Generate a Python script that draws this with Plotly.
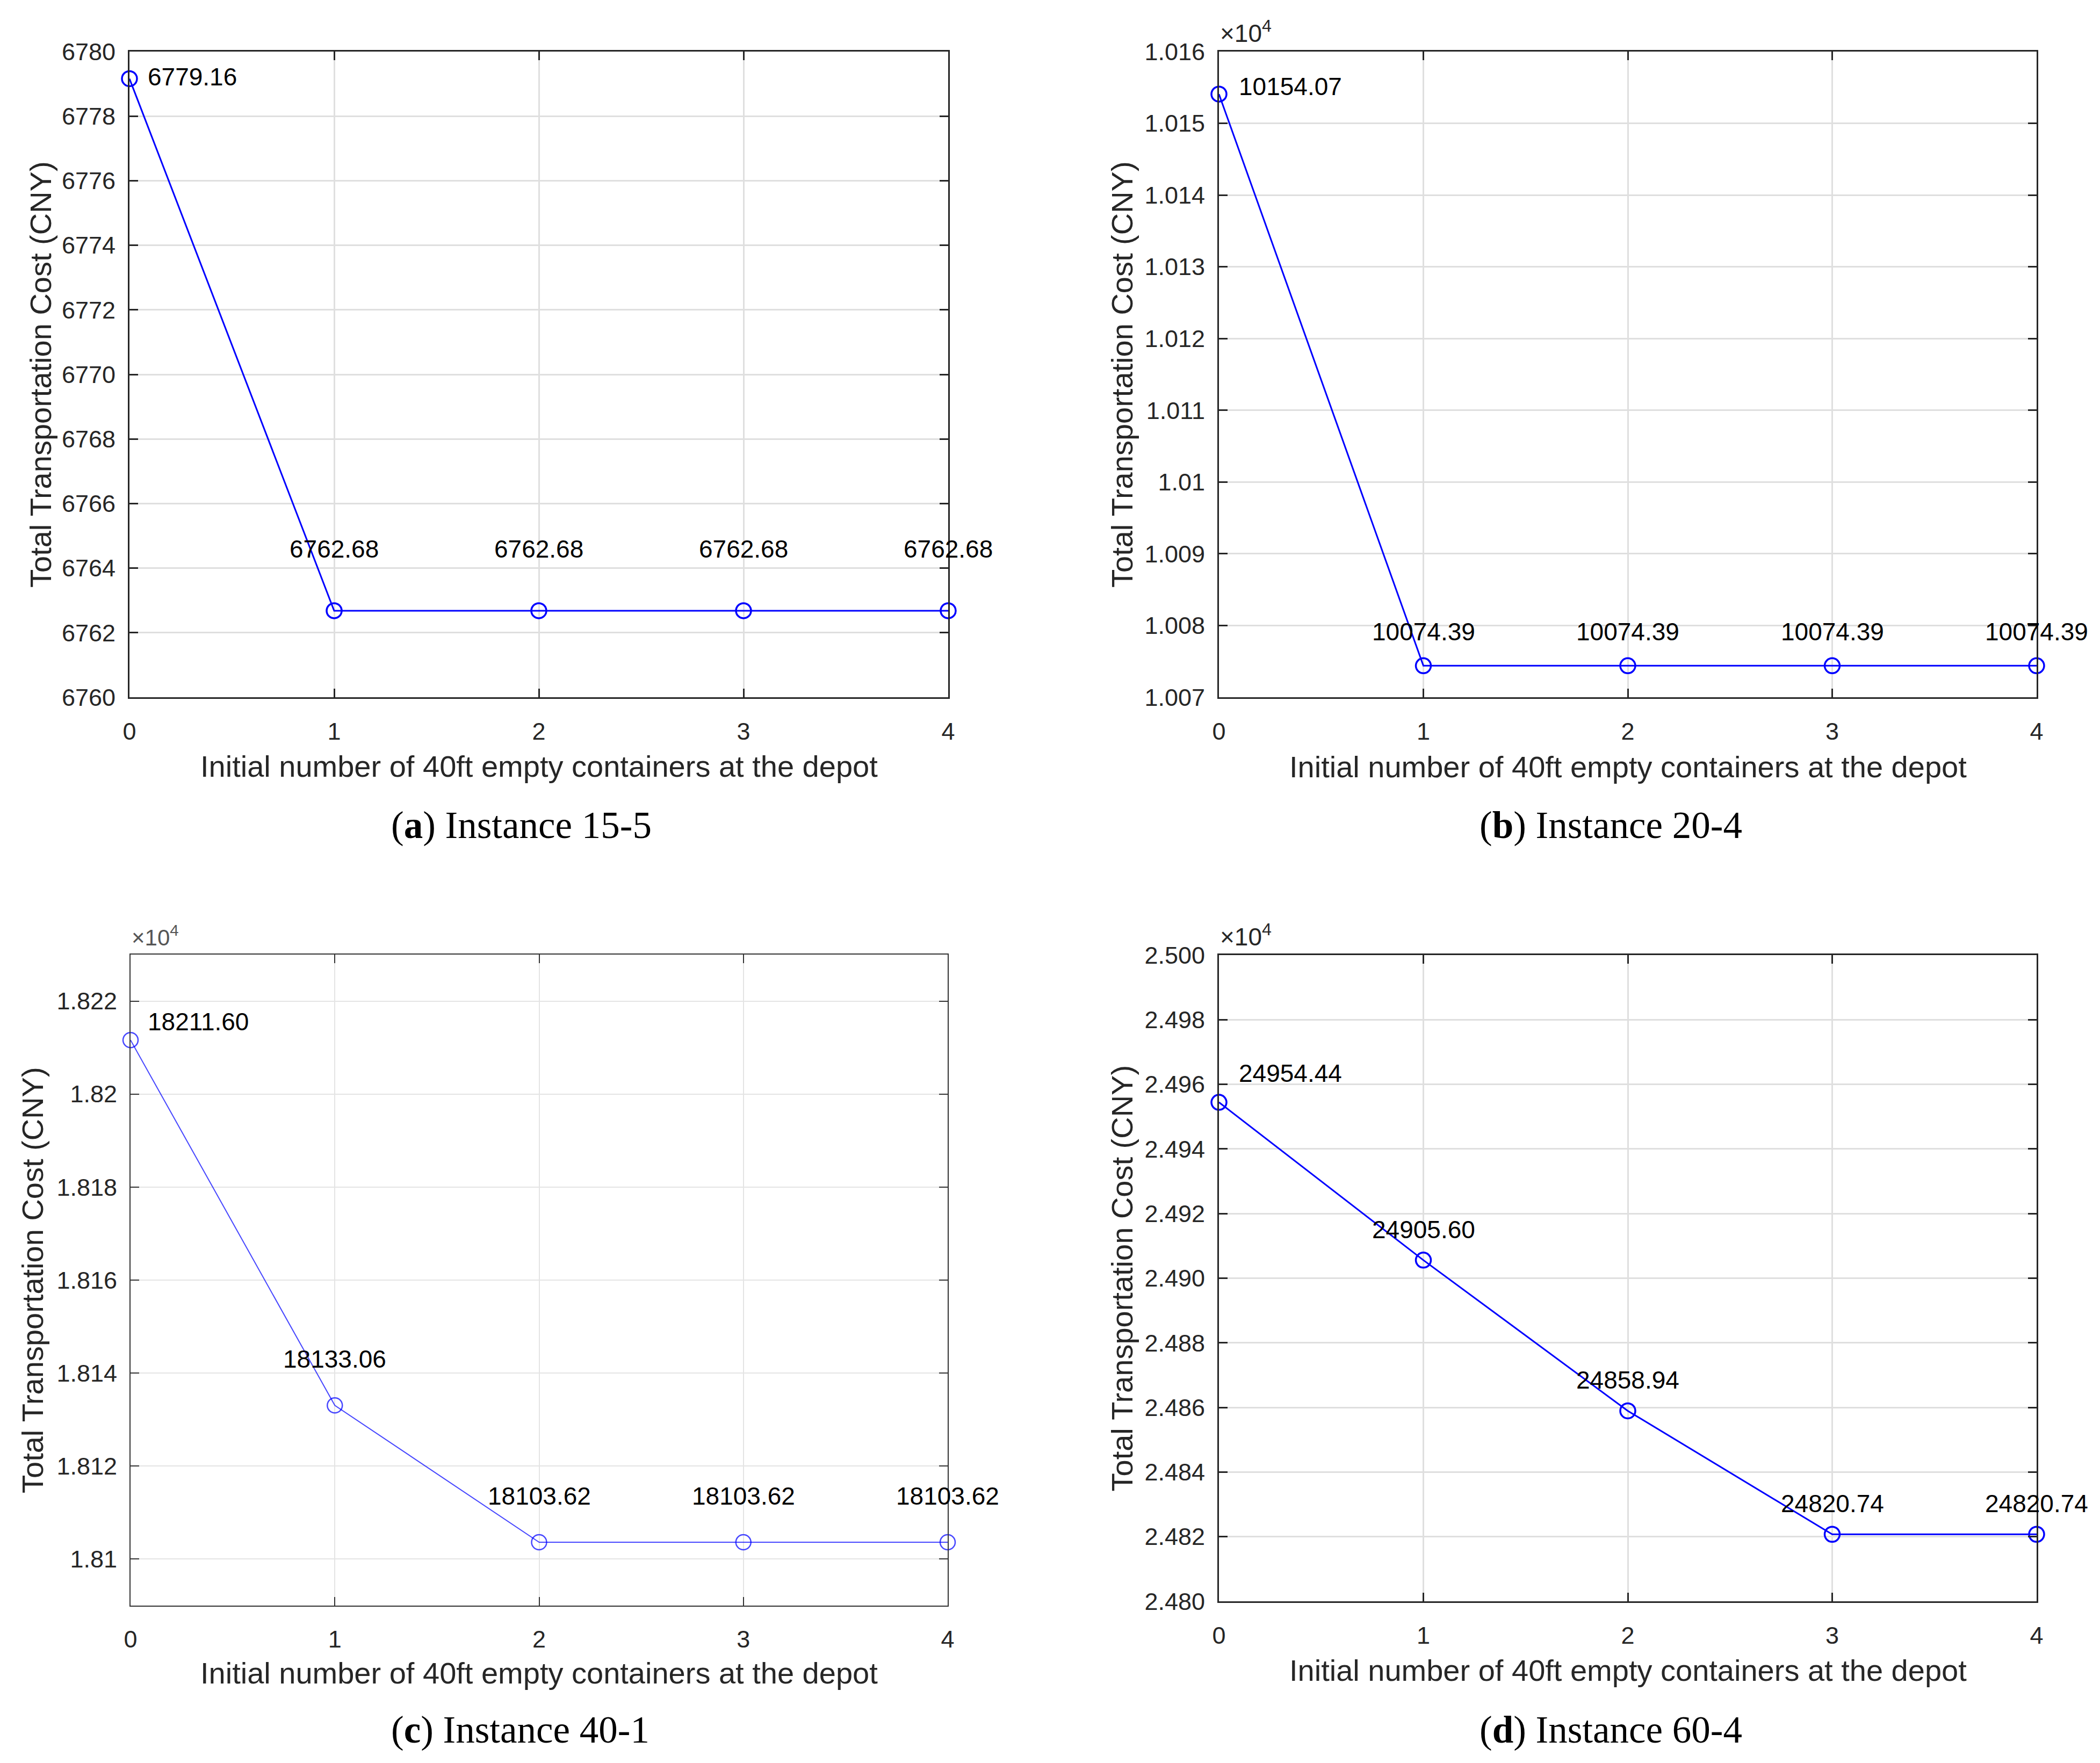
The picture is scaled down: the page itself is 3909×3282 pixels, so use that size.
import plotly.graph_objects as go

# --- data ---
x_vals = [0, 1, 2, 3, 4]
cost_15_5 = [6779.16, 6762.68, 6762.68, 6762.68, 6762.68]
cost_20_4 = [10154.07, 10074.39, 10074.39, 10074.39, 10074.39]
cost_40_1 = [18211.60, 18133.06, 18103.62, 18103.62, 18103.62]
cost_60_4 = [24954.44, 24905.60, 24858.94, 24820.74, 24820.74]

ticks_a = [6760, 6762, 6764, 6766, 6768, 6770, 6772, 6774, 6776, 6778, 6780]
labels_a = ["6760", "6762", "6764", "6766", "6768", "6770", "6772", "6774", "6776", "6778", "6780"]
ticks_b = [10070, 10080, 10090, 10100, 10110, 10120, 10130, 10140, 10150, 10160]
labels_b = ["1.007", "1.008", "1.009", "1.01", "1.011", "1.012", "1.013", "1.014", "1.015", "1.016"]
ticks_c = [18100, 18120, 18140, 18160, 18180, 18200, 18220]
labels_c = ["1.81", "1.812", "1.814", "1.816", "1.818", "1.82", "1.822"]
ticks_d = [24800, 24820, 24840, 24860, 24880, 24900, 24920, 24940, 24960, 24980, 25000]
labels_d = ["2.480", "2.482", "2.484", "2.486", "2.488", "2.490", "2.492", "2.494", "2.496", "2.498", "2.500"]

captions = ["(<b>a</b>) Instance 15-5", "(<b>b</b>) Instance 20-4",
            "(<b>c</b>) Instance 40-1", "(<b>d</b>) Instance 60-4"]

W, H = 3909, 3282
SANS = "Liberation Sans, Arial, Helvetica, sans-serif"
SERIF = "Liberation Serif, Times New Roman, serif"
AX = "#262626"

# panel boxes in pixels: left, right, top, bottom
panels = [
    dict(ys=cost_15_5, tv=ticks_a, tt=labels_a, rng=[6760, 6780], box=(233, 1757, 88, 1290),
         exp=False, first=(32, 3), up=115, ytx=67, xty=1418, capx=962, capy=1529, thin=False),
    dict(ys=cost_20_4, tv=ticks_b, tt=labels_b, rng=[10070, 10160], box=(2261, 3783, 88, 1290),
         exp=True, first=(35, 14), up=63, ytx=2080, xty=1420, capx=2990, capy=1529, thin=False),
    dict(ys=cost_40_1, tv=ticks_c, tt=labels_c, rng=[18090, 18230], box=(235, 1756, 1769, 2981),
         exp=True, first=(30, 34), up=86, ytx=52, xty=3106, capx=960, capy=3212, thin=True),
    dict(ys=cost_60_4, tv=ticks_d, tt=labels_d, rng=[24800, 25000], box=(2261, 3783, 1770, 2973),
         exp=True, first=(35, 54), up=57, ytx=2080, xty=3101, capx=2990, capy=3212, thin=False),
]

fig = go.Figure()
annotations = []
layout_axes = {}

for i, p in enumerate(panels):
    n = "" if i == 0 else str(i + 1)
    l, r, t, b = p["box"]
    thin = p["thin"]
    lw = 2 if thin else 3
    line_col = "rgba(0,0,255,0.72)" if thin else "#0000ff"
    grid_col = "#e4e4e4" if thin else "#dfdfdf"
    ax_col = "#333333" if thin else AX

    fig.add_trace(go.Scatter(
        x=x_vals, y=p["ys"], xaxis="x" + n, yaxis="y" + n,
        mode="lines+markers", cliponaxis=False, showlegend=False,
        line=dict(color=line_col, width=lw),
        marker=dict(symbol="circle-open", size=28, color=line_col, line=dict(width=lw + 0.5, color=line_col)),
    ))

    common = dict(showline=True, linecolor=ax_col, linewidth=lw, mirror="ticks",
                  ticks="inside", ticklen=16, tickwidth=lw, tickcolor=ax_col,
                  showgrid=True, gridcolor=grid_col, gridwidth=lw if not thin else 1.5,
                  zeroline=False, automargin=False,
                  tickfont=dict(family=SANS, size=45, color=AX))
    layout_axes["xaxis" + n] = dict(common, domain=[l / W, r / W], range=[0, 4],
                                    tickvals=x_vals, ticktext=[str(v) for v in x_vals],
                                    anchor="y" + n, ticklabelstandoff=22)
    layout_axes["yaxis" + n] = dict(common, domain=[1 - b / H, 1 - t / H], range=p["rng"],
                                    tickvals=p["tv"], ticktext=p["tt"],
                                    anchor="x" + n, ticklabelstandoff=14)

    # value labels
    for j, (xv, yv) in enumerate(zip(x_vals, p["ys"])):
        if j == 0:
            dx, dy = p["first"]
            annotations.append(dict(x=xv, y=yv, xref="x" + n, yref="y" + n, text=f"{yv:.2f}",
                                    showarrow=False, xanchor="left", yanchor="middle",
                                    xshift=dx, yshift=dy, font=dict(family=SANS, size=46, color="black")))
        else:
            annotations.append(dict(x=xv, y=yv, xref="x" + n, yref="y" + n, text=f"{yv:.2f}",
                                    showarrow=False, xanchor="center", yanchor="middle",
                                    yshift=p["up"], font=dict(family=SANS, size=46, color="black")))

    # exponent marker
    if p["exp"]:
        annotations.append(dict(x=l / W, y=1 - (t - 6) / H, xref="paper", yref="paper",
                                text="×10<sup>4</sup>", showarrow=False, xanchor="left", yanchor="bottom",
                                font=dict(family=SANS, size=46 if not thin else 42,
                                          color=AX if not thin else "#555555")))

    # axis titles
    annotations.append(dict(x=p["ytx"] / W, y=1 - (t + b) / 2 / H, xref="paper", yref="paper",
                            text="Total Transportation Cost (CNY)", textangle=-90, showarrow=False,
                            xanchor="center", yanchor="middle",
                            font=dict(family=SANS, size=56, color=AX)))
    annotations.append(dict(x=(l + r) / 2 / W, y=1 - p["xty"] / H, xref="paper", yref="paper",
                            text="Initial number of 40ft empty containers at the depot", showarrow=False,
                            xanchor="center", yanchor="middle",
                            font=dict(family=SANS, size=56, color=AX)))
    # caption
    annotations.append(dict(x=p["capx"] / W, y=1 - p["capy"] / H, xref="paper", yref="paper",
                            text=captions[i], showarrow=False, xanchor="center", yanchor="middle",
                            font=dict(family=SERIF, size=71, color="black")))

fig.update_layout(
    width=W, height=H,
    margin=dict(l=0, r=0, t=0, b=0),
    paper_bgcolor="white", plot_bgcolor="white",
    annotations=annotations,
    **layout_axes,
)

fig.write_html("out.html")
